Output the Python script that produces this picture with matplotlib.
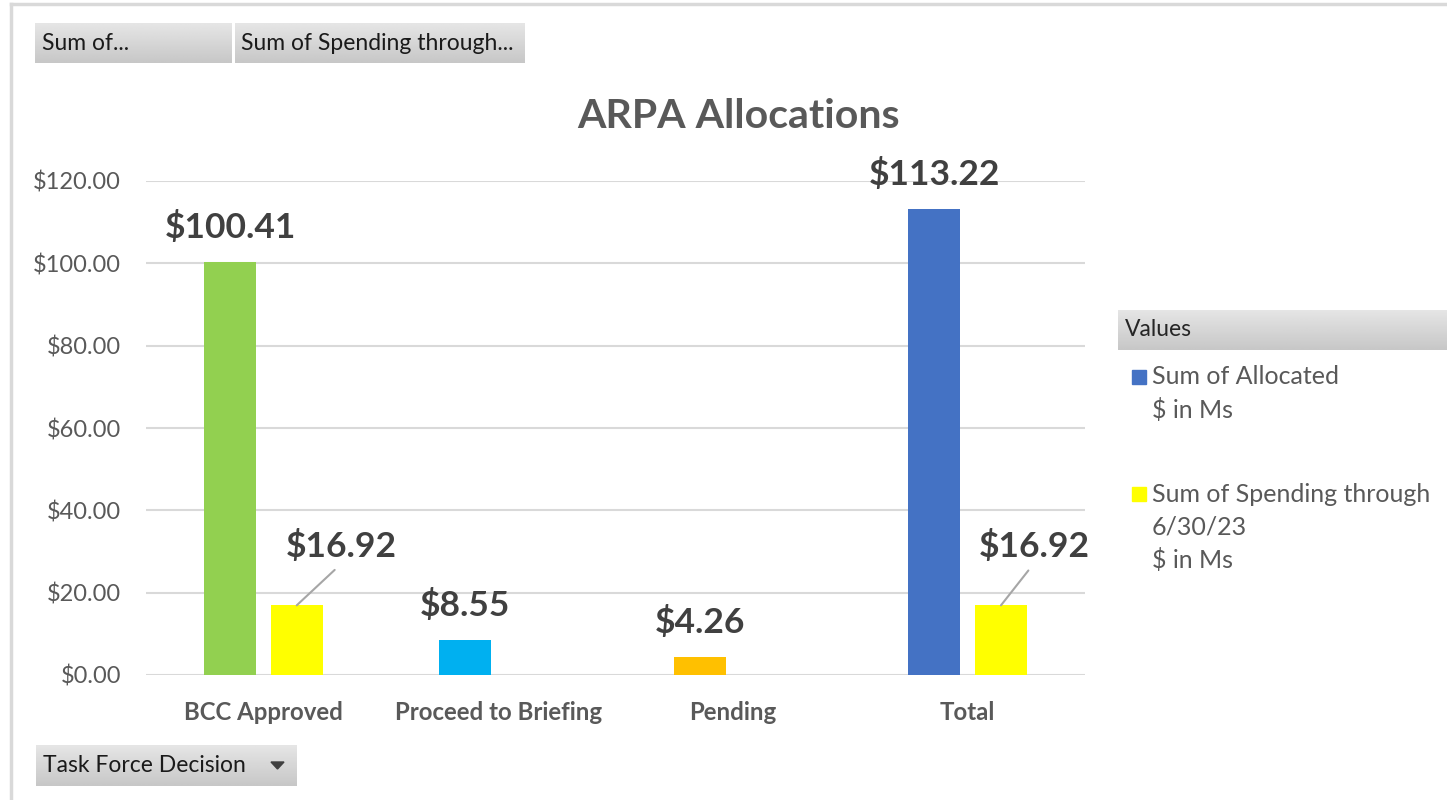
import numpy as np
import matplotlib
matplotlib.use("Agg")
import matplotlib.pyplot as plt
from matplotlib.patches import Rectangle, Polygon
from matplotlib.lines import Line2D

plt.rcParams["font.family"] = ["Lato", "DejaVu Sans"]

# data ($ in Ms)
categories = ["BCC Approved", "Proceed to Briefing", "Pending", "Total"]
allocated = [100.41, 8.55, 4.26, 113.22]
spending = [16.92, np.nan, np.nan, 16.92]
alloc_colors = ["#92D050", "#00B0F0", "#FFC000", "#4472C4"]
spend_color = "#FFFF00"
y_ticks = [0, 20, 40, 60, 80, 100, 120]

W, H = 1447, 800
fig = plt.figure(figsize=(W / 100, H / 100), dpi=100)


def fx(px):
    return px / W


def fy(py):
    return 1 - py / H


def button(x0, y0, x1, y1):
    """gray gradient pivot button, pixel coords"""
    bax = fig.add_axes([fx(x0), fy(y1), fx(x1 - x0), (y1 - y0) / H])
    grad = np.linspace(0.90, 0.78, 50).reshape(-1, 1)
    bax.imshow(grad, cmap="gray", vmin=0, vmax=1, aspect="auto",
               extent=[0, 1, 0, 1], origin="upper")
    bax.set_axis_off()
    return bax


# frame of the pivot chart
fig.add_artist(Line2D([fx(11), fx(11)], [fy(4), 0], color="#D9D9D9", lw=2.5))
fig.add_artist(Line2D([fx(11), 1], [fy(4), fy(4)], color="#D9D9D9", lw=2.5))

# main axes
ax = fig.add_axes([fx(146), fy(675), fx(1085 - 146), (675 - 181) / H])
x = np.arange(len(categories))
off = 0.142
bw = 0.2215
ax.bar(x - off, allocated, bw, color=alloc_colors, zorder=3)
ax.bar(x + off, spending, bw, color=spend_color, zorder=3)

ax.set_xlim(-0.5, 3.5)
ax.set_ylim(0, 120)
ax.set_yticks(y_ticks)
ax.set_yticklabels(["${:.2f}".format(v) for v in y_ticks])
ax.set_xticks(x)
ax.set_xticklabels(categories, fontweight="bold")
ax.tick_params(axis="y", length=0, pad=18, labelsize=17, labelcolor="#595959")
ax.tick_params(axis="x", length=0, pad=19, labelsize=17.3, labelcolor="#595959")
ax.grid(axis="y", color="#D9D9D9", lw=1.5, zorder=0)
for s in ax.spines.values():
    s.set_visible(False)

# data labels
for xi, v in zip(x, allocated):
    ax.annotate("${:.2f}".format(v), (xi - off, v), xytext=(0, 24),
                textcoords="offset pixels", ha="center", va="baseline",
                fontsize=25.5, fontweight="bold", color="#404040", zorder=5)
ax_right = ax.transData.transform((3.5, 0))[0]
for xi, v in zip(x, spending):
    if np.isnan(v):
        continue
    # label sits up and to the right, pulled back inside the plot area
    bx = ax.transData.transform((xi + off, v))[0]
    dx = min(45, ax_right - 51 - bx)
    ax.annotate("${:.2f}".format(v), (xi + off, v), xytext=(dx, 48),
                textcoords="offset pixels", ha="center", va="baseline",
                fontsize=25.5, fontweight="bold", color="#404040", zorder=5,
                arrowprops=dict(arrowstyle="-", color="#A6A6A6", lw=1.5,
                                shrinkA=4, shrinkB=0, relpos=(0.5, 0)))

# title
fig.text(fx(739), fy(117), "ARPA Allocations", ha="center", va="center",
         fontsize=29.5, fontweight="bold", color="#595959")

# pivot field buttons
button(35, 23, 232, 63)
button(235, 23, 525, 63)
fig.text(fx(42), fy(44), "Sum of...", ha="left", va="center",
         fontsize=16.5, color="#1A1A1A")
fig.text(fx(241), fy(44), "Sum of Spending through...", ha="left",
         va="center", fontsize=16.5, color="#1A1A1A")
button(36, 745, 297, 786)
fig.text(fx(43), fy(766), "Task Force Decision", ha="left", va="center",
         fontsize=16.5, color="#1A1A1A")
fig.add_artist(Polygon([[fx(271), fy(762)], [fx(284), fy(762)],
                        [fx(277.5), fy(769)]], closed=True,
                       color="#404040", transform=fig.transFigure))

# legend panel
button(1118, 310, 1447, 350)
fig.text(fx(1125), fy(330), "Values", ha="left", va="center",
         fontsize=16.5, color="#262626")
legend_items = [("Sum of Allocated\n$ in Ms", "#4472C4", 377),
                ("Sum of Spending through\n6/30/23\n$ in Ms", spend_color, 494)]
for label, col, ytop in legend_items:
    fig.add_artist(Rectangle((fx(1132), fy(ytop + 7)), fx(14), 14 / H,
                             color=col, transform=fig.transFigure))
    for i, line in enumerate(label.split("\n")):
        fig.text(fx(1152), fy(ytop + 33 * i), line, ha="left", va="center",
                 fontsize=18, color="#595959")

fig.savefig("out.png", dpi=100)
